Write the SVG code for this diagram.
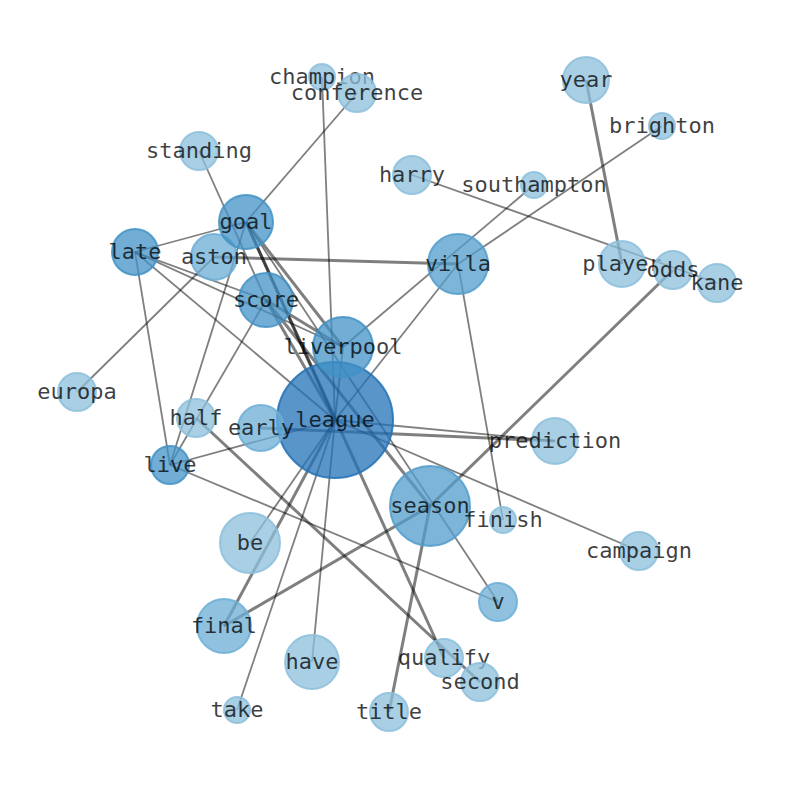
<svg xmlns="http://www.w3.org/2000/svg" width="794" height="790" viewBox="0 0 794 790">
<style>
.e{stroke:#000;stroke-opacity:0.5;stroke-width:1.8;fill:none}
.t{stroke-width:3}
circle{stroke-width:2;fill-opacity:0.75;stroke-opacity:0.85}
.c1{fill:#2171b5;stroke:#2171b5}
.c2{fill:#4292c6;stroke:#4292c6}
.c3{fill:#519ccc;stroke:#519ccc}
.c4{fill:#6baed6;stroke:#6baed6}
.c5{fill:#8cbfdc;stroke:#8cbfdc}
text{font-family:"DejaVu Sans Mono","Liberation Mono",monospace;font-size:22px;fill:#000;fill-opacity:0.75;text-anchor:middle;dominant-baseline:central;transform:translateY(-1px)}
</style>
<rect width="794" height="790" fill="#fff"/>
<g id="edges">
<line class="e" x1="322" y1="77" x2="335" y2="420"/>
<line class="e" x1="357" y1="93" x2="246" y2="222"/>
<line class="e" x1="199" y1="151" x2="266" y2="300"/>
<line class="e" x1="412" y1="175" x2="717" y2="283"/>
<line class="e t" x1="586" y1="80" x2="622" y2="264"/>
<line class="e" x1="662" y1="126" x2="458" y2="264"/>
<line class="e" x1="534" y1="185" x2="343" y2="347"/>
<line class="e" x1="458" y1="264" x2="335" y2="420"/>
<line class="e" x1="458" y1="264" x2="503" y2="520"/>
<line class="e t" x1="214" y1="257" x2="458" y2="264"/>
<line class="e t" x1="673" y1="270" x2="430" y2="506"/>
<line class="e t" x1="430" y1="506" x2="224" y2="626"/>
<line class="e t" x1="430" y1="506" x2="389" y2="712"/>
<line class="e" x1="246" y1="222" x2="498" y2="602"/>
<line class="e" x1="135" y1="252" x2="246" y2="222"/>
<line class="e" x1="135" y1="252" x2="266" y2="300"/>
<line class="e" x1="135" y1="252" x2="343" y2="347"/>
<line class="e" x1="135" y1="252" x2="335" y2="420"/>
<line class="e" x1="135" y1="252" x2="170" y2="465"/>
<line class="e" x1="77" y1="392" x2="214" y2="257"/>
<line class="e" x1="170" y1="465" x2="246" y2="222"/>
<line class="e" x1="170" y1="465" x2="266" y2="300"/>
<line class="e" x1="170" y1="465" x2="335" y2="420"/>
<line class="e" x1="170" y1="465" x2="498" y2="602"/>
<line class="e t" x1="196" y1="418" x2="480" y2="682"/>
<line class="e t" x1="261" y1="428" x2="555" y2="441"/>
<line class="e" x1="335" y1="420" x2="555" y2="441"/>
<line class="e" x1="335" y1="420" x2="639" y2="551"/>
<line class="e" x1="335" y1="420" x2="250" y2="543"/>
<line class="e t" x1="335" y1="420" x2="224" y2="626"/>
<line class="e" x1="335" y1="420" x2="312" y2="662"/>
<line class="e" x1="335" y1="420" x2="237" y2="710"/>
<line class="e" x1="343" y1="347" x2="335" y2="420"/>
<line class="e t" x1="246" y1="222" x2="343" y2="347"/>
<line class="e t" x1="246" y1="222" x2="335" y2="420"/>
<line class="e t" x1="246" y1="222" x2="444" y2="658"/>
<line class="e t" x1="266" y1="300" x2="343" y2="347"/>
<line class="e t" x1="266" y1="300" x2="335" y2="420"/>
<line class="e t" x1="266" y1="300" x2="430" y2="506"/>
</g>
<g id="n-league"><circle class="c1" cx="335" cy="420" r="58"/><text x="335" y="420">league</text></g>
<g id="n-liverpool"><circle class="c2" cx="343" cy="347" r="30"/><text x="343" y="347">liverpool</text></g>
<g id="n-season"><circle class="c3" cx="430" cy="506" r="40"/><text x="430" y="506">season</text></g>
<g id="n-villa"><circle class="c3" cx="458" cy="264" r="30"/><text x="458" y="264">villa</text></g>
<g id="n-score"><circle class="c2" cx="266" cy="300" r="27"/><text x="266" y="300">score</text></g>
<g id="n-aston"><circle class="c4" cx="214" cy="257" r="23"/><text x="214" y="257">aston</text></g>
<g id="n-goal"><circle class="c2" cx="246" cy="222" r="27"/><text x="246" y="222">goal</text></g>
<g id="n-late"><circle class="c2" cx="135" cy="252" r="23"/><text x="135" y="252">late</text></g>
<g id="n-live"><circle class="c2" cx="170" cy="465" r="19"/><text x="170" y="465">live</text></g>
<g id="n-early"><circle class="c4" cx="261" cy="428" r="23"/><text x="261" y="428">early</text></g>
<g id="n-half"><circle class="c5" cx="196" cy="418" r="19"/><text x="196" y="418">half</text></g>
<g id="n-be"><circle class="c5" cx="250" cy="543" r="30"/><text x="250" y="543">be</text></g>
<g id="n-final"><circle class="c4" cx="224" cy="626" r="27"/><text x="224" y="626">final</text></g>
<g id="n-have"><circle class="c5" cx="312" cy="662" r="27"/><text x="312" y="662">have</text></g>
<g id="n-take"><circle class="c5" cx="237" cy="710" r="13"/><text x="237" y="710">take</text></g>
<g id="n-title"><circle class="c5" cx="389" cy="712" r="19"/><text x="389" y="712">title</text></g>
<g id="n-qualify"><circle class="c5" cx="444" cy="658" r="19"/><text x="444" y="658">qualify</text></g>
<g id="n-second"><circle class="c5" cx="480" cy="682" r="19"/><text x="480" y="682">second</text></g>
<g id="n-v"><circle class="c4" cx="498" cy="602" r="19"/><text x="498" y="602">v</text></g>
<g id="n-finish"><circle class="c5" cx="503" cy="520" r="13"/><text x="503" y="520">finish</text></g>
<g id="n-campaign"><circle class="c5" cx="639" cy="551" r="19"/><text x="639" y="551">campaign</text></g>
<g id="n-prediction"><circle class="c5" cx="555" cy="441" r="23"/><text x="555" y="441">prediction</text></g>
<g id="n-player"><circle class="c5" cx="622" cy="264" r="23"/><text x="622" y="264">player</text></g>
<g id="n-odds"><circle class="c5" cx="673" cy="270" r="19"/><text x="673" y="270">odds</text></g>
<g id="n-kane"><circle class="c5" cx="717" cy="283" r="19"/><text x="717" y="283">kane</text></g>
<g id="n-year"><circle class="c5" cx="586" cy="80" r="23"/><text x="586" y="80">year</text></g>
<g id="n-brighton"><circle class="c5" cx="662" cy="126" r="13"/><text x="662" y="126">brighton</text></g>
<g id="n-southampton"><circle class="c5" cx="534" cy="185" r="13"/><text x="534" y="185">southampton</text></g>
<g id="n-harry"><circle class="c5" cx="412" cy="175" r="19"/><text x="412" y="175">harry</text></g>
<g id="n-champion"><circle class="c5" cx="322" cy="77" r="13"/><text x="322" y="77">champion</text></g>
<g id="n-conference"><circle class="c5" cx="357" cy="93" r="19"/><text x="357" y="93">conference</text></g>
<g id="n-standing"><circle class="c5" cx="199" cy="151" r="19"/><text x="199" y="151">standing</text></g>
<g id="n-europa"><circle class="c5" cx="77" cy="392" r="19"/><text x="77" y="392">europa</text></g>
</svg>
